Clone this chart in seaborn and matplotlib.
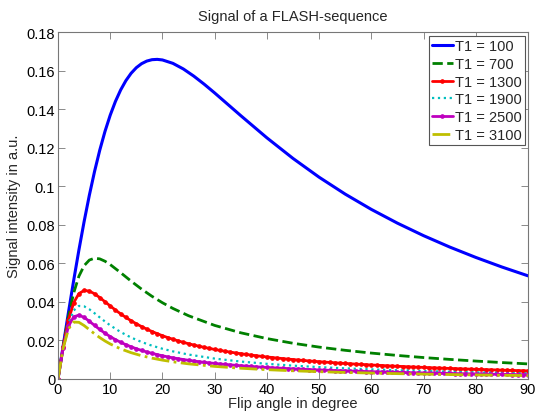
import matplotlib
matplotlib.use("Agg")
import matplotlib.pyplot as plt
import seaborn as sns
from matplotlib.ticker import FormatStrFormatter

# ---- data ----
angles_dense = list(range(0, 91))
angles_blue = [0, 1, 2, 3, 4, 5, 6, 7, 8, 9, 10, 11, 12, 13, 14, 15, 16, 17, 18, 19, 20,
               22, 24, 26, 28, 30, 35, 40, 45, 50, 55, 60, 65, 70, 75, 80, 85, 90]
angles_other = [0, 1, 2, 3, 4, 5, 6, 7, 8, 9, 10, 12, 14, 16, 18, 20, 22, 25, 30,
                35, 40, 45, 50, 55, 60, 65, 70, 75, 80, 85, 90]

t1_100 = [0, 0.01741, 0.03453, 0.05110, 0.06687, 0.08166, 0.09529, 0.10767, 0.11874,
          0.12846, 0.13687, 0.14401, 0.14995, 0.15478, 0.15860, 0.16150, 0.16357,
          0.16492, 0.16564, 0.16580, 0.16550, 0.16374, 0.16083, 0.15712, 0.15291,
          0.14839, 0.13661, 0.12511, 0.11442, 0.10468, 0.09590, 0.08798, 0.08084,
          0.07436, 0.06846, 0.06307, 0.05810, 0.05352]
t1_700 = [0, 0.01712, 0.03240, 0.04459, 0.05330, 0.05879, 0.06169, 0.06266, 0.06231,
          0.06109, 0.05935, 0.05515, 0.05076, 0.04663, 0.04289, 0.03956, 0.03661,
          0.03282, 0.02780, 0.02397, 0.02097, 0.01854, 0.01655, 0.01488, 0.01345,
          0.01222, 0.01113, 0.01017, 0.00931, 0.00853, 0.00783]
t1_1300 = [0,
           0.01685, 0.03052, 0.03955, 0.04430, 0.04593, 0.04560, 0.04419, 0.04223, 0.04007, 0.03789,
           0.03578, 0.03378, 0.03193, 0.03022, 0.02864, 0.02719, 0.02586, 0.02463, 0.02351, 0.02246,
           0.02150, 0.02061, 0.01978, 0.01901, 0.01830, 0.01763, 0.01700, 0.01641, 0.01586, 0.01534,
           0.01485, 0.01438, 0.01395, 0.01353, 0.01314, 0.01277, 0.01241, 0.01207, 0.01175, 0.01144,
           0.01115, 0.01087, 0.01060, 0.01034, 0.01009, 0.00985, 0.00962, 0.00940, 0.00919, 0.00899,
           0.00879, 0.00860, 0.00841, 0.00824, 0.00806, 0.00790, 0.00774, 0.00758, 0.00743, 0.00728,
           0.00714, 0.00700, 0.00687, 0.00673, 0.00661, 0.00648, 0.00636, 0.00624, 0.00613, 0.00602,
           0.00591, 0.00580, 0.00570, 0.00559, 0.00549, 0.00540, 0.00530, 0.00521, 0.00512, 0.00503,
           0.00494, 0.00485, 0.00477, 0.00469, 0.00461, 0.00453, 0.00445, 0.00437, 0.00430, 0.00422]
t1_1900 = [0, 0.01658, 0.02884, 0.03554, 0.03790, 0.03769, 0.03617, 0.03412, 0.03194,
           0.02981, 0.02783, 0.02435, 0.02151, 0.01919, 0.01728, 0.01569, 0.01434,
           0.01268, 0.01059, 0.00905, 0.00787, 0.00693, 0.00617, 0.00553, 0.00499,
           0.00453, 0.00412, 0.00376, 0.00344, 0.00315, 0.00289]
t1_2500 = [0,
           0.01632, 0.02734, 0.03226, 0.03312, 0.03195, 0.02997, 0.02780, 0.02568, 0.02374, 0.02199,
           0.02042, 0.01904, 0.01780, 0.01670, 0.01571, 0.01483, 0.01403, 0.01331, 0.01265, 0.01205,
           0.01150, 0.01100, 0.01053, 0.01010, 0.00971, 0.00934, 0.00899, 0.00867, 0.00837, 0.00809,
           0.00782, 0.00757, 0.00734, 0.00711, 0.00690, 0.00670, 0.00651, 0.00633, 0.00616, 0.00600,
           0.00584, 0.00569, 0.00555, 0.00541, 0.00528, 0.00515, 0.00503, 0.00491, 0.00480, 0.00469,
           0.00459, 0.00449, 0.00439, 0.00430, 0.00421, 0.00412, 0.00404, 0.00396, 0.00388, 0.00380,
           0.00372, 0.00365, 0.00358, 0.00351, 0.00344, 0.00338, 0.00332, 0.00325, 0.00319, 0.00314,
           0.00308, 0.00302, 0.00297, 0.00291, 0.00286, 0.00281, 0.00276, 0.00271, 0.00267, 0.00262,
           0.00257, 0.00253, 0.00248, 0.00244, 0.00240, 0.00236, 0.00232, 0.00228, 0.00224, 0.00220]
t1_3100 = [0, 0.01607, 0.02599, 0.02954, 0.02941, 0.02773, 0.02559, 0.02345, 0.02148,
           0.01972, 0.01817, 0.01563, 0.01365, 0.01208, 0.01082, 0.00978, 0.00892,
           0.00786, 0.00654, 0.00558, 0.00484, 0.00426, 0.00379, 0.00340, 0.00307,
           0.00278, 0.00253, 0.00231, 0.00211, 0.00193, 0.00177]

labels = ["T1 = 100", "T1 = 700", "T1 = 1300", "T1 = 1900", "T1 = 2500", "T1 = 3100"]
x_ticks = [0, 10, 20, 30, 40, 50, 60, 70, 80, 90]
y_ticks = [0, 0.02, 0.04, 0.06, 0.08, 0.1, 0.12, 0.14, 0.16, 0.18]

# ---- style ----
sns.set_style("white")
plt.rcParams["font.family"] = ["Liberation Sans", "DejaVu Sans"]
plt.rcParams["font.size"] = 10.5
plt.rcParams["legend.numpoints"] = 1

fig = plt.figure(figsize=(5.35, 4.14), dpi=100)
ax = fig.add_axes([58 / 535, 34 / 414, 470 / 535, 347 / 414])

series = [
    (angles_blue, t1_100, (0, 0, 1), "-", None, 2.2),
    (angles_other, t1_700, (0, 0.5, 0), "--", None, 2.0),
    (angles_dense, t1_1300, (1, 0, 0), "-", ".", 2.0),
    (angles_other, t1_1900, (0, 0.75, 0.75), ":", None, 1.6),
    (angles_dense, t1_2500, (0.75, 0, 0.75), "-", ".", 2.0),
    (angles_other, t1_3100, (0.75, 0.75, 0), "-.", None, 2.0),
]
for (xs, ys, col, ls, mk, lw), lab in zip(series, labels):
    kw = dict(x=xs, y=ys, ax=ax, color=col, linestyle=ls, linewidth=lw,
              label=lab, sort=False, estimator=None)
    if mk:
        kw.update(marker=mk, markersize=5, markeredgewidth=0.8,
                  markeredgecolor=col, markerfacecolor=col)
    sns.lineplot(**kw)

ax.set_xlim(0, 90)
ax.set_ylim(0, 0.18)
ax.set_xticks(x_ticks)
ax.set_yticks(y_ticks)
ax.yaxis.set_major_formatter(FormatStrFormatter("%g"))
ax.tick_params(direction="in", length=5, width=0.6, colors="#777777",
               labelcolor="black", labelsize=10.5, top=True, right=True,
               bottom=True, left=True, pad=2)
for sp in ax.spines.values():
    sp.set_color("#777777")
    sp.set_linewidth(0.8)
    sp.set_visible(True)

ax.set_title("Signal of a FLASH-sequence", fontsize=10.5, pad=9)
ax.set_xlabel("Flip angle in degree", fontsize=10.5, labelpad=0.5)
ax.set_ylabel("Signal intensity in a.u.", fontsize=10.5, labelpad=4)

leg = ax.legend(loc="upper right", bbox_to_anchor=(0.994, 0.989), borderaxespad=0,
                fontsize=10.5, handlelength=1.4, handletextpad=0.15, labelspacing=0.25,
                borderpad=0.25, fancybox=False, framealpha=1, edgecolor="#555555")
leg.get_frame().set_linewidth(0.8)

fig.savefig("out.png", dpi=100)
